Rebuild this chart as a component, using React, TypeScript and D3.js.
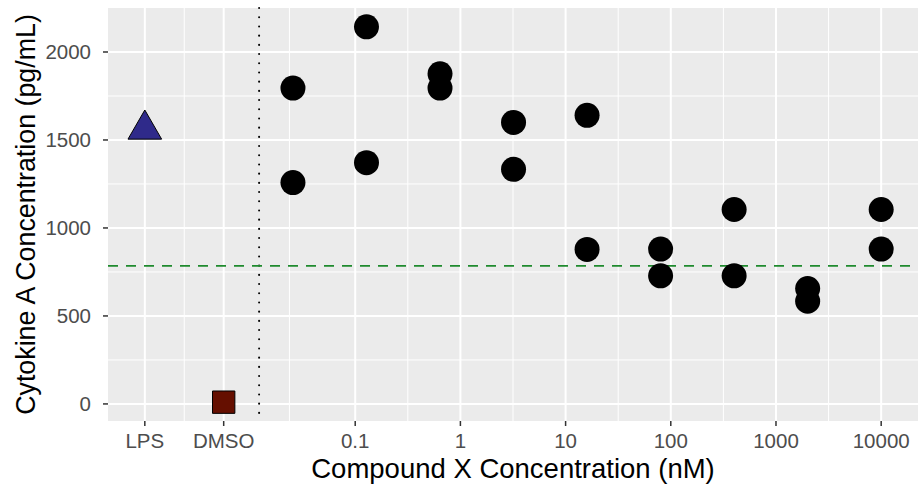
import React from "react";
import * as d3 from "d3";

// compound X dose series (nM), two replicates
const doses = [0.0256, 0.128, 0.64, 3.2, 16, 80, 400, 2000, 10000];
const rep1 = [1795, 2143, 1876, 1600, 1640, 880, 1105, 656, 1105];
const rep2 = [1258, 1371, 1795, 1333, 878, 728, 728, 584, 880];

// controls placed on the left of the log axis
const controlLabels = ["LPS", "DMSO"];
const controlX = [0.001, 0.00562];
const controlValues = [1560, 10];

const xTickValues = [0.001, 0.00562, 0.1, 1, 10, 100, 1000, 10000];
const xTickLabels = ["LPS", "DMSO", "0.1", "1", "10", "100", "1000", "10000"];
const yTickValues = [0, 500, 1000, 1500, 2000];
const yMinorValues = [250, 750, 1250, 1750];

const separatorX = 0.0122;
const refLevel = 785;

const W = 919;
const H = 487;
const margin = { top: 8, right: 1, bottom: 66, left: 108 };
const font = "'Liberation Sans', Arial, Helvetica, sans-serif";

export default function App() {
  const x = d3
    .scaleLog()
    .domain([Math.pow(10, -3.35), Math.pow(10, 4.35)])
    .range([margin.left, W - margin.right]);
  const y = d3
    .scaleLinear()
    .domain([-97, 2250])
    .range([H - margin.bottom, margin.top]);

  const [x0, x1] = x.range();
  const [y0, y1] = y.range();

  // minor breaks half way between majors in log space
  const xMinor = d3.pairs(xTickValues).map(([a, b]) => Math.sqrt(a * b));

  const points = doses.flatMap((d, i) => [
    { dose: d, value: rep1[i] },
    { dose: d, value: rep2[i] },
  ]);

  const tri = d3.symbol().type(d3.symbolTriangle).size(490)();
  const sq = d3.symbol().type(d3.symbolSquare).size(500)();

  return (
    <div style={{ position: "absolute", left: 0, top: 0 }}>
      <svg width={W} height={H} style={{ display: "block", background: "#fff" }}>
        <rect x={x0} y={y1} width={x1 - x0} height={y0 - y1} fill="#EBEBEB" />

        {/* grid */}
        {yMinorValues.map((v) => (
          <line key={"ym" + v} x1={x0} x2={x1} y1={y(v)} y2={y(v)} stroke="#fff" strokeWidth={1} />
        ))}
        {xMinor.map((v, i) => (
          <line key={"xm" + i} x1={x(v)} x2={x(v)} y1={y1} y2={y0} stroke="#fff" strokeWidth={1} />
        ))}
        {yTickValues.map((v) => (
          <line key={"yM" + v} x1={x0} x2={x1} y1={y(v)} y2={y(v)} stroke="#fff" strokeWidth={2} />
        ))}
        {xTickValues.map((v) => (
          <line key={"xM" + v} x1={x(v)} x2={x(v)} y1={y1} y2={y0} stroke="#fff" strokeWidth={2} />
        ))}

        {/* reference lines */}
        <line
          x1={x(separatorX)}
          x2={x(separatorX)}
          y1={y1}
          y2={y0}
          stroke="#000"
          strokeWidth={2}
          strokeDasharray="0.1,9.1"
          strokeLinecap="round"
        />
        <line
          x1={x0}
          x2={x1}
          y1={y(refLevel)}
          y2={y(refLevel)}
          stroke="#1f8a2e"
          strokeWidth={1.8}
          strokeDasharray="10,8"
        />

        {/* controls */}
        <path
          d={tri}
          transform={`translate(${x(controlX[0])},${y(controlValues[0])})`}
          fill="#2f2a8a"
          stroke="#000"
          strokeWidth={1}
        />
        <path
          d={sq}
          transform={`translate(${x(controlX[1])},${y(controlValues[1])})`}
          fill="#650f00"
          stroke="#000"
          strokeWidth={1}
        />

        {/* dose response points */}
        {points.map((p, i) => (
          <circle key={i} cx={x(p.dose)} cy={y(p.value)} r={12.5} fill="#000" />
        ))}

        {/* y axis */}
        {yTickValues.map((v) => (
          <g key={"yt" + v}>
            <line x1={x0 - 5} x2={x0} y1={y(v)} y2={y(v)} stroke="#333" strokeWidth={1.5} />
            <text
              x={x0 - 17}
              y={y(v)}
              dy="0.35em"
              textAnchor="end"
              fontFamily={font}
              fontSize={20.5}
              fill="#4D4D4D"
            >
              {v}
            </text>
          </g>
        ))}

        {/* x axis */}
        {xTickValues.map((v, i) => (
          <g key={"xt" + v}>
            <line x1={x(v)} x2={x(v)} y1={y0} y2={y0 + 5} stroke="#333" strokeWidth={1.5} />
            <text
              x={x(v)}
              y={448}
              textAnchor="middle"
              fontFamily={font}
              fontSize={20.5}
              fill="#4D4D4D"
            >
              {xTickLabels[i]}
            </text>
          </g>
        ))}

        <text
          x={(x0 + x1) / 2}
          y={478}
          textAnchor="middle"
          fontFamily={font}
          fontSize={27.5}
          fill="#000"
        >
          Compound X Concentration (nM)
        </text>
        <text
          transform={`translate(35,${(y0 + y1) / 2}) rotate(-90)`}
          textAnchor="middle"
          fontFamily={font}
          fontSize={26.8}
          fill="#000"
        >
          Cytokine A Concentration (pg/mL)
        </text>
      </svg>
    </div>
  );
}
